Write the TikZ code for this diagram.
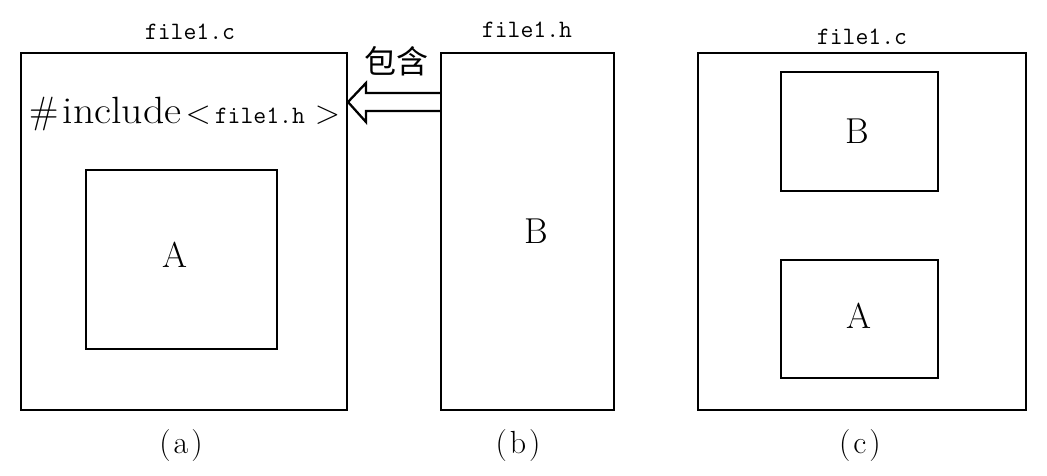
\documentclass[tikz,border=0pt]{standalone}
\usepackage{fontspec}
\newfontfamily\cjk{Noto Sans CJK SC}
\begin{document}
\begin{tikzpicture}[x=1pt,y=-1pt,line width=2.5pt,
  box/.style={draw=black},
  lbl/.style={font=\ttfamily\fontsize{25}{27}\selectfont,inner sep=0pt},
  big/.style={font=\fontsize{36}{40}\selectfont,inner sep=0pt},
  captxt/.style={font=\fontsize{32}{34}\selectfont,inner sep=0pt}]
\useasboundingbox (0,0) rectangle (1047,475);
% (a)
\draw[box] (21,53) rectangle (347,410);
\draw[box] (86,170) rectangle (277,349);
\node[big] (A1) at (175,255) {A};
\node[lbl] (fa) at (190,32) {file1.c};
\node[inner sep=0pt,anchor=base west] (inc) at (28,123)
  {\fontsize{38}{40}\selectfont\#\hspace{4pt}\scalebox{1.1}[1]{include}\hspace{4pt}{\fontsize{20}{22}\selectfont\scalebox{1.6}{$<$}}\hspace{4pt}\ttfamily\fontsize{25}{27}\selectfont file1.h\hspace{10pt}\rmfamily{\fontsize{20}{22}\selectfont\scalebox{1.6}{$>$}}};
% (b)
\draw[box] (441,53) rectangle (614,410);
\node[big] (B1) at (536,231) {B};
\node[lbl] (fb) at (527,30) {file1.h};
% arrow
\draw[line width=2.3pt,line join=miter] (441,93) -- (366,93) -- (366,83) -- (348,102) -- (366,122) -- (366,111) -- (441,111);
\node[inner sep=0pt,font=\cjk\fontsize{32}{34}\selectfont] (inc2) at (396,61) {包含};
% (c)
\draw[box] (698,53) rectangle (1026,410);
\draw[box] (781,72) rectangle (938,191);
\draw[box] (781,260) rectangle (938,378);
\node[big] (B2) at (857,131) {B};
\node[big] (A2) at (859,316) {A};
\node[lbl] (fc) at (862,37) {file1.c};
% captions
\node[captxt] (ca) at (181,446) {(\hspace{3pt}a\hspace{3pt})};
\node[captxt] (cb) at (518,446) {(\hspace{3pt}b\hspace{3pt})};
\node[captxt] (cc) at (860,446) {(\hspace{3pt}c\hspace{3pt})};
\end{tikzpicture}
\end{document}
